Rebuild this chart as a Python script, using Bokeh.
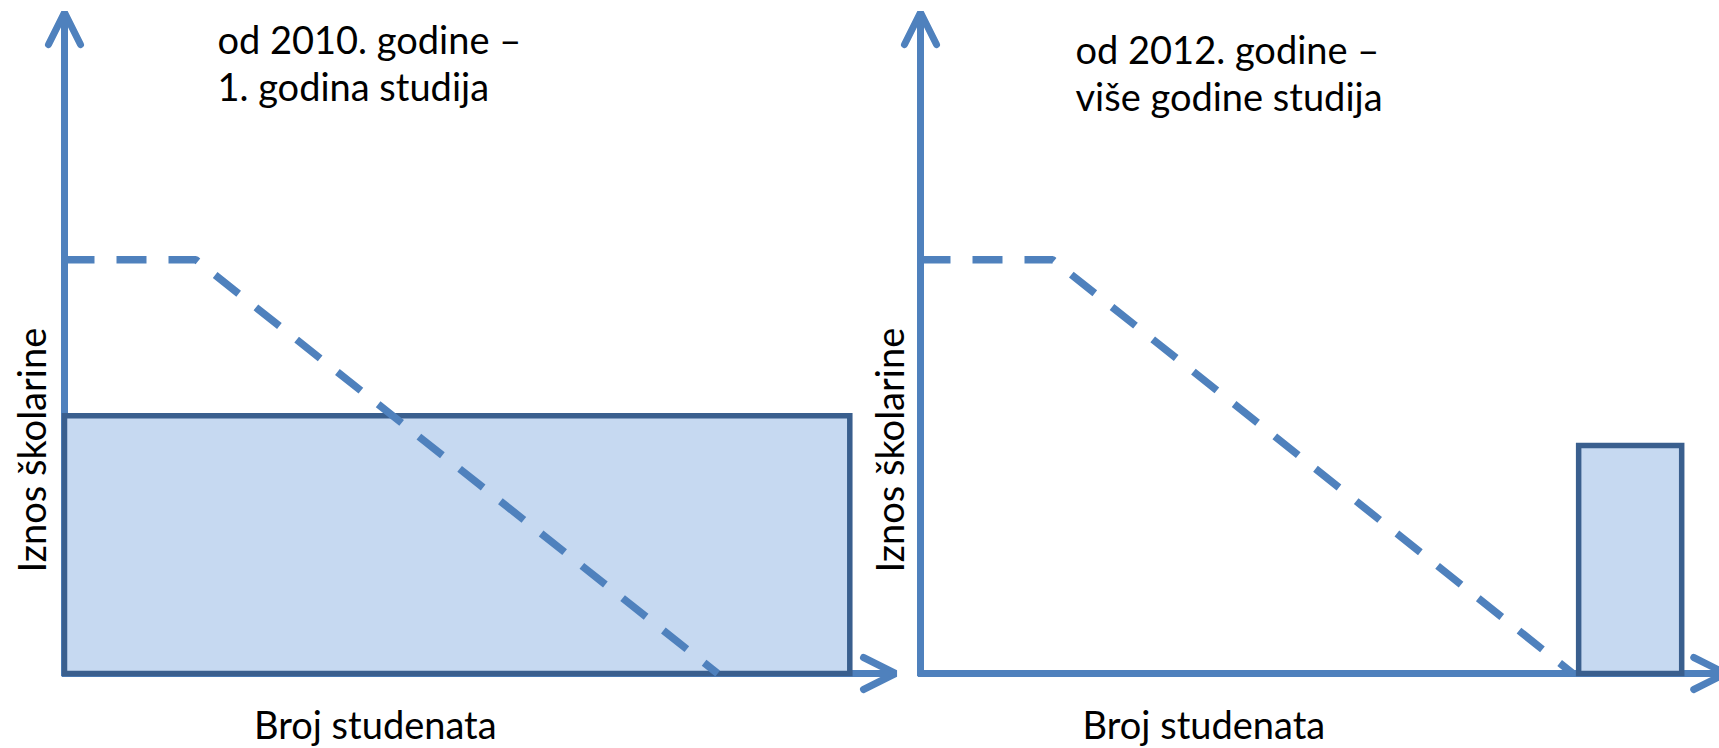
from bokeh.plotting import figure
from bokeh.models import Range1d, Arrow, OpenHead, Label
from bokeh.embed import file_html
from bokeh.resources import INLINE
import math

# ---- data (abstract units: x = broj studenata, y = iznos školarine, axes end at 100) ----
demand_x = [0, 15.8, 78.6]          # dashed curve, left panel
demand_y = [62.6, 62.6, 0]
demand_x_r = [0, 15.9, 78.5]        # dashed curve, right panel
demand_y_r = [62.6, 62.6, 0]
fee_left = [0]                      # tuition block 2010, 1st year
fee_right = [94.5]
fee_top = [39.0]
fee2_left = [79.2]                  # tuition block 2012, higher years
fee2_right = [91.6]
fee2_top = [34.5]
axis_end_left = 100
axis_end_right = 96.9
axis_top = 100

titles_left = ["od 2010. godine \u2013", "1. godina studija"]
titles_right = ["od 2012. godine \u2013", "vi\u0161e godine studija"]
xlabel = "Broj studenata"
ylabel = "Iznos \u0161kolarine"

BLUE = "#4F81BD"
DARK = "#3A5F8E"
FILL = "#C6D9F1"
FONT = "Lato"
FS = "38px"

W, H = 1719, 748
PX_X = 8.31   # pixels per x unit
PX_Y = 6.61   # pixels per y unit
OX_L = 64     # origin of left panel in canvas px
OX_R = 920    # origin of right panel in canvas px
OY = 673      # origin row in canvas px (from top)

p = figure(width=W, height=H, output_backend="svg", toolbar_location=None,
           x_axis_type=None, y_axis_type=None,
           x_range=Range1d(-OX_L / PX_X, (W - OX_L) / PX_X),
           y_range=Range1d(-(H - OY) / PX_Y, OY / PX_Y),
           min_border=0, min_border_left=0, min_border_right=0,
           min_border_top=0, min_border_bottom=0)
p.extra_x_ranges = {"right": Range1d(-OX_R / PX_X, (W - OX_R) / PX_X)}
p.outline_line_color = None
p.grid.visible = False
p.background_fill_color = "white"
p.border_fill_color = "white"

for rn, xend in (("default", axis_end_left), ("right", axis_end_right)):
    for (xs, ys, xe, ye) in ((0, -0.4, 0, axis_top), (-0.3, 0, xend, 0)):
        p.add_layout(Arrow(end=OpenHead(size=32, line_width=7, line_color=BLUE, line_cap="round"),
                           x_start=xs, y_start=ys, x_end=xe, y_end=ye,
                           line_width=7, line_color=BLUE, level="underlay",
                           x_range_name=rn))

p.quad(left=fee_left, right=fee_right, bottom=[0], top=fee_top,
       fill_color=FILL, line_color=DARK, line_width=5.5, line_join="miter")
p.quad(left=fee2_left, right=fee2_right, bottom=[0], top=fee2_top,
       fill_color=FILL, line_color=DARK, line_width=5.5, line_join="miter",
       x_range_name="right")

p.line(demand_x, demand_y, line_color=BLUE, line_width=7.5, line_dash="30 22")
p.line(demand_x_r, demand_y_r, line_color=BLUE, line_width=7.5, line_dash="30 22",
       x_range_name="right")

def lab(text, x, y, rn, align="left", angle=0.0, baseline="alphabetic"):
    p.add_layout(Label(x=x, y=y, text=text, x_range_name=rn, text_font=FONT,
                       text_font_size=FS, text_color="black", text_align=align,
                       text_baseline=baseline, angle=angle))

DY = 14 / PX_Y   # correction for rendered baseline
DX = 12 / PX_X
# titles
lab(titles_left[0], 18.4, 93.9 + DY, "default")
lab(titles_left[1], 18.4, 86.7 + DY, "default")
lab(titles_right[0], 18.65, 92.4 + DY, "right")
lab(titles_right[1], 18.65, 85.2 + DY, "right")
# axis titles
lab(xlabel, 37.4, -9.7 + DY, "default", align="center")
lab(xlabel, 34.1, -9.7 + DY, "right", align="center")
lab(ylabel, -2.53 - DX, 33.8, "default", align="center", angle=math.pi / 2)
lab(ylabel, -2.29 - DX, 33.8, "right", align="center", angle=math.pi / 2)

open("out.html", "w").write(file_html(p, INLINE))
